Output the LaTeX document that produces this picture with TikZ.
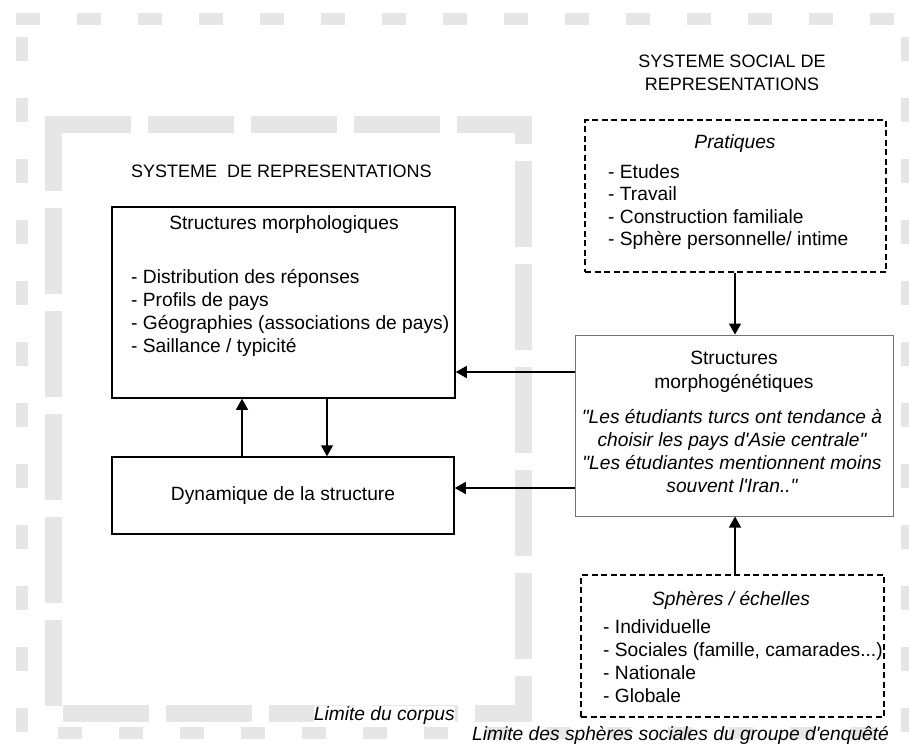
\documentclass[tikz,border=0pt]{standalone}
\usepackage{fontspec}
\setmainfont{Liberation Sans}[Ligatures=TeXOff]
\usetikzlibrary{arrows.meta}
\definecolor{framegray}{HTML}{E6E6E6}
\begin{document}
\begin{tikzpicture}[x=1pt,y=-1pt,
  txt/.style={inner sep=0pt, font=\fontsize{19.2}{23}\selectfont},
  itx/.style={inner sep=0pt, font=\fontsize{19.2}{23}\selectfont\itshape},
  hdr/.style={inner sep=0pt, font=\fontsize{18}{23}\selectfont},
  box/.style={draw=black, line width=1.5pt, inner sep=0pt},
  dbox/.style={draw=black, line width=1.6pt, dash pattern=on 6pt off 3.5pt, inner sep=0pt},
  gbox/.style={draw=black!55, line width=1pt, inner sep=0pt},
  arr/.style={line width=1.4pt, -{Triangle[length=11pt,width=12pt]}},
  outerfr/.style={draw=framegray, line width=12pt, dash pattern=on 24pt off 37pt},
  innerfr/.style={draw=framegray, line width=17pt, dash pattern=on 86pt off 17pt}]
\useasboundingbox (0,0) rectangle (909,745);
% outer frame
\coordinate (o1) at (16,19);
\coordinate (o2) at (913,19);
\coordinate (o3) at (22,37);
\coordinate (o4) at (22,745);
\coordinate (o5) at (907,37);
\coordinate (o6) at (907,745);
\coordinate (o7) at (58,733);
\coordinate (o8) at (913,733);
\draw[outerfr] (o1) -- (o2);
\draw[outerfr] (o3) -- (o4);
\draw[outerfr] (o5) -- (o6);
\draw[outerfr] (o7) -- (o8);
% inner frame
\coordinate (i1) at (45,124.5);
\coordinate (i2) at (523.5,124.5);
\coordinate (i3) at (523.5,713.5);
\coordinate (i4) at (53.5,713.5);
\coordinate (i5) at (53.5,116);
\draw[innerfr] (i1) -- (i2) -- (i3) -- (i4) -- (i5);

% boxes
\node[box, minimum width=343pt, minimum height=191pt] (ml) at (283.5,302.5) {};
\node[box, minimum width=342pt, minimum height=77pt] (dyn) at (283,495.5) {};
\node[dbox, minimum width=301pt, minimum height=152pt] (pr) at (735.5,196) {};
\node[gbox, minimum width=318pt, minimum height=181pt] (mg) at (734,425.5) {};
\node[dbox, minimum width=303pt, minimum height=142pt] (sp) at (732.5,646) {};

% headers
\node[hdr, anchor=base] (h1) at (732,67) {SYSTEME SOCIAL DE};
\node[hdr, anchor=base] (h2) at (732,90) {REPRESENTATIONS};
\node[hdr, anchor=base west] (h3) at (131,177) {SYSTEME~~DE REPRESENTATIONS};

% structures morphologiques
\node[txt, anchor=base] (t1) at (284,229) {Structures morphologiques};
\node[txt, anchor=base west] (l1) at (131,283) {- Distribution des réponses};
\node[txt, anchor=base west] (l2) at (131,306) {- Profils de pays};
\node[txt, anchor=base west] (l3) at (131,329) {- Géographies (associations de pays)};
\node[txt, anchor=base west] (l4) at (131,352) {- Saillance / typicité};

\node[txt, anchor=base] (t2) at (283,500) {Dynamique de la structure};

% pratiques
\node[itx, anchor=base] (t3) at (735,148) {Pratiques};
\node[txt, anchor=base west] (p1) at (608,178) {- Etudes};
\node[txt, anchor=base west] (p2) at (608,200) {- Travail};
\node[txt, anchor=base west] (p3) at (608,223) {- Construction familiale};
\node[txt, anchor=base west] (p4) at (608,245) {- Sphère personnelle/ intime};

% morphogenetiques
\node[txt, anchor=base] (t4) at (734,364) {Structures};
\node[txt, anchor=base] (t5) at (734,388) {morphogénétiques};
\node[itx, anchor=base] (q1) at (732,423) {"Les étudiants turcs ont tendance à};
\node[itx, anchor=base] (q2) at (732,446) {choisir les pays d'Asie centrale"};
\node[itx, anchor=base] (q3) at (732,469) {"Les étudiantes mentionnent moins};
\node[itx, anchor=base] (q4) at (732,492) {souvent l'Iran.."};

% spheres
\node[itx, anchor=base] (t6) at (731,605) {Sphères / échelles};
\node[txt, anchor=base west] (s1) at (603,633) {- Individuelle};
\node[txt, anchor=base west] (s2) at (603,656) {- Sociales (famille, camarades...)};
\node[txt, anchor=base west] (s3) at (603,679) {- Nationale};
\node[txt, anchor=base west] (s4) at (603,702) {- Globale};

% limits
\node[itx, anchor=base east, fill=white, inner sep=0pt] (lc) at (455,720) {Limite du corpus};
\node[itx, anchor=base west] (ls) at (472,740) {Limite des sphères sociales du groupe d'enquêté};

% arrows
\draw[arr] (pr.south -| 735,0) -- (mg.north -| 735,0);
\draw[arr] (sp.north -| 735,0) -- (mg.south -| 735,0);
\draw[arr] (mg.west |- 0,372) -- (ml.east |- 0,372);
\draw[arr] (mg.west |- 0,488) -- (dyn.east |- 0,488);
\draw[arr] (ml.south -| 327,0) -- (dyn.north -| 327,0);
\draw[arr, line width=1.2pt] (dyn.north -| 242,0) -- (ml.south -| 242,0);
\end{tikzpicture}
\end{document}
